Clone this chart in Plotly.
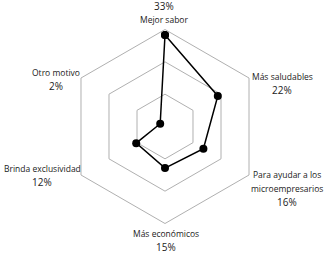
import plotly.graph_objects as go

categories = ["Mejor sabor", "Más saludables", "Para ayudar a los microempresarios",
              "Más económicos", "Brinda exclusividad", "Otro motivo"]
values = [33, 22, 16, 15, 12, 2]
value_labels = ["33%", "22%", "16%", "15%", "12%", "2%"]
radial_max = 35
ring_vals = [35 / 3, 70 / 3, 35]

W, H = 324, 253
cx, cy, R = 165, 126.5, 97

# label lines: (text, x_px, y_px)
label_lines = [
    (value_labels[0], 164, 6), (categories[0], 164, 19),
    (categories[1], 282, 76), (value_labels[1], 282, 90),
    ("Para ayudar a los", 287, 174), ("microempresarios", 287, 188), (value_labels[2], 287, 202),
    (categories[3], 166, 233), (value_labels[3], 166, 247),
    (categories[4], 42, 168), (value_labels[4], 42, 182),
    (categories[5], 56, 72), (value_labels[5], 56, 86),
]

fig = go.Figure()
fig.add_trace(go.Scatterpolar(
    r=values + [values[0]],
    theta=categories + [categories[0]],
    mode="lines+markers",
    line=dict(color="black", width=1.5),
    marker=dict(color="black", size=8),
    showlegend=False,
    hoverinfo="skip",
))

annotations = []
for txt, px, py in label_lines:
    size = 10 if txt.endswith("%") else 8.5
    annotations.append(dict(
        text=txt, x=px / W, y=1 - py / H, xref="paper", yref="paper",
        xanchor="center", yanchor="middle", showarrow=False, align="center",
        font=dict(family="Open Sans", size=size, color="#222222"),
    ))

fig.update_layout(
    width=W, height=H,
    margin=dict(l=0, r=0, t=0, b=0),
    paper_bgcolor="white",
    font=dict(family="Open Sans", size=9, color="#222222"),
    annotations=annotations,
    polar=dict(
        domain=dict(x=[(cx - R) / W, (cx + R) / W], y=[1 - (cy + R) / H, 1 - (cy - R) / H]),
        bgcolor="white",
        gridshape="linear",
        radialaxis=dict(range=[0, radial_max], tickvals=ring_vals, showticklabels=False,
                        showline=False, ticks="", gridcolor="#b0b0b0", gridwidth=1),
        angularaxis=dict(direction="clockwise", rotation=90, showgrid=False,
                         showline=True, linecolor="#b0b0b0", linewidth=1, ticks="",
                         showticklabels=False),
    ),
)

fig.write_html("out.html", config={"displayModeBar": False},
               post_script="document.body.style.margin='0px';")
